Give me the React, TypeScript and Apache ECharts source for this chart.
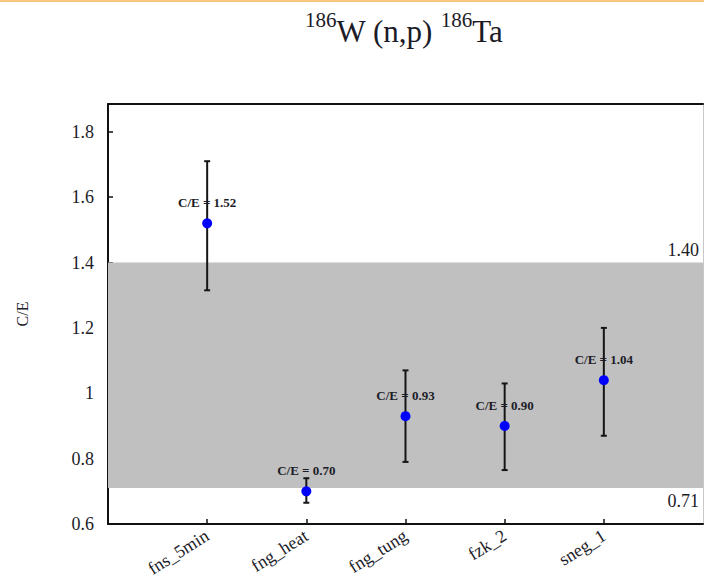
import { useEffect, useRef } from "react";
import * as echarts from "echarts";

// Measurements: calculated-to-experimental ratio with its uncertainty band
const categories = ["fns_5min", "fng_heat", "fng_tung", "fzk_2", "sneg_1"];
const ceValues = [1.52, 0.7, 0.93, 0.9, 1.04];
const errLow = [1.315, 0.665, 0.79, 0.765, 0.87];
const errHigh = [1.71, 0.74, 1.07, 1.03, 1.2];

// Acceptance band limits
const bandLow = 0.71;
const bandHigh = 1.4;

// Axis ticks
const yTicks = [0.6, 0.8, 1.0, 1.2, 1.4, 1.6, 1.8];
const xPositions = categories.map((_, i) => i + 1);

const SERIF = "Liberation Serif";
const INK = "#1c1c28";

export default function App() {
  const ref = useRef<HTMLDivElement>(null);

  useEffect(() => {
    if (!ref.current) return;
    document.body.style.margin = "0";
    const chart = echarts.init(ref.current, undefined, { renderer: "svg" });

    const points = ceValues.map((v, i) => [xPositions[i], v]);
    const bars = ceValues.map((_, i) => [xPositions[i], errLow[i], errHigh[i]]);

    chart.setOption({
      animation: false,
      backgroundColor: "#ffffff",
      title: {
        text: "{s|186}{m|W (n,p) }{s|186}{m|Ta}",
        left: 300,
        top: 4,
        textStyle: {
          fontFamily: SERIF,
          fontWeight: "normal",
          color: INK,
          rich: {
            m: { fontFamily: SERIF, fontWeight: "normal", fontSize: 31, lineHeight: 38, verticalAlign: "bottom", color: INK },
            s: { fontFamily: SERIF, fontWeight: "normal", fontSize: 21, lineHeight: 19, verticalAlign: "top", color: INK },
          },
        },
      },
      graphic: [
        {
          type: "rect",
          left: 0,
          top: 0,
          shape: { width: 704, height: 2 },
          style: { fill: "#f6c77c" },
          silent: true,
        },
      ],
      grid: { left: 108, right: 1, top: 104, bottom: 62 },
      xAxis: [
        {
          type: "value",
          min: 0,
          max: 6,
          interval: 1,
          position: "bottom",
          splitLine: { show: false },
          axisLine: { onZero: false, lineStyle: { color: "#111", width: 2 } },
          axisTick: {
            inside: true,
            length: 5,
            customValues: xPositions,
            lineStyle: { color: "#111", width: 1.5 },
          },
          axisLabel: {
            customValues: xPositions,
            formatter: (v: number) => categories[Math.round(v) - 1] ?? "",
            rotate: 32,
            margin: 10,
            fontFamily: SERIF,
            fontSize: 18,
            color: INK,
          },
        },
        {
          type: "value",
          min: 0,
          max: 6,
          position: "top",
          splitLine: { show: false },
          axisLine: { onZero: false, lineStyle: { color: "#111", width: 2 } },
          axisTick: { show: false },
          axisLabel: { show: false },
        },
      ],
      yAxis: [
        {
          type: "value",
          min: 0.6,
          max: 1.885,
          position: "left",
          name: "C/E",
          nameLocation: "middle",
          nameRotate: 90,
          nameGap: 78,
          nameTextStyle: { fontFamily: SERIF, fontSize: 16, color: INK },
          splitLine: { show: false },
          axisLine: { onZero: false, lineStyle: { color: "#111", width: 2 } },
          axisTick: {
            inside: true,
            length: 5,
            customValues: yTicks,
            lineStyle: { color: "#111", width: 1.5 },
          },
          axisLabel: {
            customValues: yTicks,
            formatter: (v: number) => String(Math.round(v * 10) / 10),
            margin: 14,
            fontFamily: SERIF,
            fontSize: 18,
            color: INK,
          },
        },
        {
          type: "value",
          min: 0.6,
          max: 1.885,
          position: "right",
          splitLine: { show: false },
          axisLine: { onZero: false, lineStyle: { color: "#c8c8c8", width: 1 } },
          axisTick: { show: false },
          axisLabel: { show: false },
        },
      ],
      series: [
        {
          // error bars, plus the grey acceptance band and its limit labels
          type: "custom",
          z: 2,
          silent: true,
          data: bars,
          encode: { x: 0, y: [1, 2] },
          renderItem: (_params: any, api: any) => {
            const x = api.value(0);
            const lo = api.coord([x, api.value(1)]);
            const hi = api.coord([x, api.value(2)]);
            const cap = 3;
            const style = { stroke: "#151515", lineWidth: 2 };
            return {
              type: "group",
              children: [
                { type: "line", shape: { x1: lo[0], y1: lo[1], x2: hi[0], y2: hi[1] }, style },
                { type: "line", shape: { x1: lo[0] - cap, y1: lo[1], x2: lo[0] + cap, y2: lo[1] }, style },
                { type: "line", shape: { x1: hi[0] - cap, y1: hi[1], x2: hi[0] + cap, y2: hi[1] }, style },
              ],
            };
          },
          markArea: {
            silent: true,
            itemStyle: { color: "#c0c0c0" },
            data: [[{ yAxis: bandLow }, { yAxis: bandHigh }]],
          },
          markLine: {
            silent: true,
            symbol: "none",
            lineStyle: { color: "rgba(0,0,0,0)", width: 1, type: "solid" },
            label: {
              show: true,
              formatter: (p: any) => Number(p.value).toFixed(2),
              fontFamily: SERIF,
              fontSize: 18,
              color: INK,
              distance: 4,
            },
            data: [
              { yAxis: bandHigh, label: { position: "insideEndTop" } },
              { yAxis: bandLow, label: { position: "insideEndBottom" } },
            ],
          },
        },
        {
          // C/E points
          type: "scatter",
          z: 3,
          data: points,
          symbol: "circle",
          symbolSize: 10,
          itemStyle: { color: "#0000ff", opacity: 1 },
          label: {
            show: true,
            position: "top",
            distance: 9,
            formatter: (p: any) => `C/E = ${Number(p.value[1]).toFixed(2)}`,
            fontFamily: SERIF,
            fontSize: 13,
            fontWeight: "bold",
            color: INK,
          },
        },
      ],
    });

    return () => chart.dispose();
  }, []);

  return <div ref={ref} style={{ width: 704, height: 586 }} />;
}
